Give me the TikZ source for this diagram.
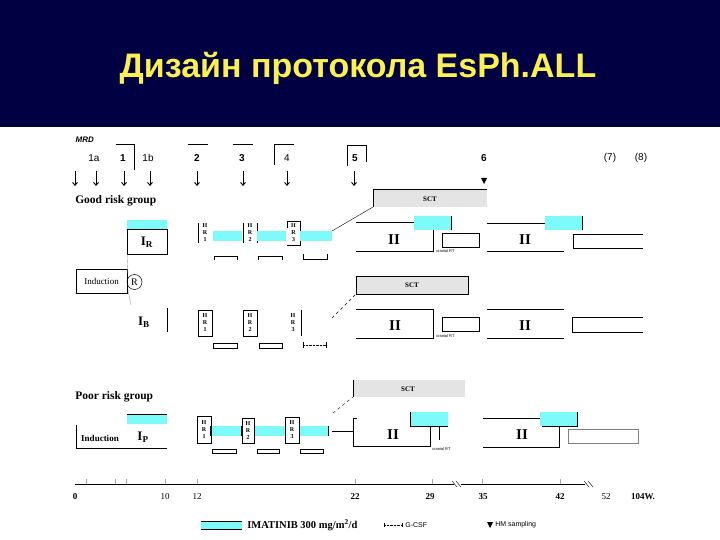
\documentclass[tikz,border=0pt]{standalone}
\usepackage{fontspec}
\setmainfont{Liberation Serif}
\setsansfont{Liberation Sans}
\usepackage{xcolor}
\usetikzlibrary{arrows.meta, positioning, calc}
\definecolor{esnavy}{RGB}{0,0,66}
\definecolor{esyellow}{RGB}{250,240,80}
\definecolor{escyan}{RGB}{125,250,250}
\definecolor{essct}{RGB}{228,228,228}
\definecolor{esfaint}{RGB}{165,165,165}

\begin{document}
\begin{tikzpicture}[x=1pt, y=-1pt, line width=0.6pt,
  serb/.style={font=\fontsize{#1}{#1}\selectfont\bfseries, inner sep=0pt},
  sans/.style={font=\sffamily\fontsize{#1}{#1}\selectfont, inner sep=0pt},
  hrl/.style={font=\fontsize{6}{7}\selectfont\bfseries, align=center, inner sep=0pt}]
\useasboundingbox (0,0) rectangle (720,540);
\fill[white] (0,0) rectangle (720,540);

% title band
\fill[esnavy] (0,0) rectangle (720,127);
\node[esyellow, font=\sffamily\bfseries\fontsize{34}{34}\selectfont] (title) at (358,68)
  {Дизайн протокола EsPh.ALL};

% MRD time points
\node[font=\sffamily\bfseries\itshape\fontsize{8}{8}\selectfont, anchor=west] (mrd) at (72,140) {MRD};
\foreach \x/\t [count=\i] in {94/1a, 123/\textbf{1}, 148/1b, 197/\textbf{2}, 242/\textbf{3},
                              287/4, 355/\textbf{5}, 484/\textbf{6}, 610/{(7)}, 641/{(8)}}{
  \node[sans=10] (tp\i) at (\x,158) {\t};
}
\draw[line width=0.4pt] (116,144) -- (134,144) -- (134,170);
\draw[line width=0.4pt] (188,144) -- (208,144);
\draw[line width=0.4pt] (233,144) -- (253,144);
\draw[line width=0.4pt] (274,165) -- (274,144) -- (294,144);
\draw[line width=0.4pt] (347,166) -- (347,145) -- (366,145) -- (366,162);
\foreach \x in {75,96,124,150,197,243,287,354}{
  \draw[-{Straight Barb[length=3pt,width=5pt]}, line width=0.9pt] (\x,171) -- (\x,186);
}
\fill (481,178) -- (487,178) -- (484,184) -- cycle;

% ---- good risk group ----
\node[serb=11.5, anchor=west] (good) at (75,201) {Good risk group};
\fill[escyan] (127,220) rectangle (167,229);
\draw (127,229) rectangle (167,254);
\node[serb=13] (ir) at (147,242) {I\textsubscript{R}};
% HR blocks
\draw[line width=0.8pt] (198,223) -- (198,243);
\node[hrl] (hrg1) at (205,233) {H\\R\\1};
\fill[escyan] (213,231) rectangle (242,241);
\draw[line width=0.8pt] (243,223) -- (243,243);
\draw (257,223) -- (257,243);
\node[hrl] (hrg2) at (250,233) {H\\R\\2};
\fill[escyan] (257,231) rectangle (286,241);
\draw (287,228) -- (287,221) -- (300,221) -- (300,245) -- (287,245);
\node[hrl] (hrg3) at (293.5,233) {H\\R\\3};
\fill[escyan] (300,231) rectangle (332,241);
\draw[line width=0.4pt] (214,260) -- (214,256) -- (237,256) -- (237,260);
\draw[line width=0.4pt] (258,260) -- (258,256) -- (282,256) -- (282,260);
\draw[line width=0.4pt] (303,254) -- (303,259) -- (327,259) -- (327,254);
\coordinate (gend) at (332,231);
\coordinate (gsct) at (373,207);
\draw[line width=0.4pt] (gend) -- (gsct);
% SCT
\fill[essct] (373,189) rectangle (487,207);
\draw (373,207) -- (373,189) -- (487,189);
\node[serb=7] (sctg) at (430,199) {SCT};
% maintenance
\draw (356,222) -- (414,222);
\fill[escyan] (414,216) rectangle (451,230);
\draw (451,216) -- (451,230);
\draw (433,230) -- (433,251) -- (356,251);
\node[serb=15] (iig1) at (394,240) {II};
\draw (442,233) rectangle (479,247);
\node[sans=4, anchor=north west] (crg) at (436,249) {cranial RT};
\draw (487,223) -- (545,223);
\fill[escyan] (545,216) rectangle (582,230);
\draw (582,216) -- (582,230);
\draw (487,251) -- (564,251);
\node[serb=15] (iig2) at (525,240) {II};
\draw (643,234) -- (573,234) -- (573,248) -- (643,248);

% ---- induction / randomisation ----
\draw (76,269) rectangle (127,293);
\node[font=\fontsize{9}{9}\selectfont, inner sep=0pt] (ind) at (101.5,281) {Induction};
\draw[line width=0.5pt] (134.5,282) circle (7.5);
\node[font=\fontsize{10}{10}\selectfont, inner sep=0pt] (rnd) at (134.5,282) {R};
\draw[esfaint, line width=0.4pt] (127,254) -- (128,274);
\draw[esfaint, line width=0.4pt] (128,290) -- (131,305);

% ---- middle arm ----
\node[serb=13] (ib) at (144,322) {I\textsubscript{B}};
\draw (167,308) -- (167,332);
\draw (198,310) rectangle (212,336);
\node[hrl] (hrb1) at (205,323) {H\\R\\1};
\draw (243,310) rectangle (257,336);
\node[hrl] (hrb2) at (250,323) {H\\R\\2};
\draw (301,310) -- (301,336);
\node[hrl] (hrb3) at (293,323) {H\\R\\3};
\draw[line width=0.4pt] (213,343) rectangle (237,348);
\draw[line width=0.4pt] (259,343) rectangle (282,348);
\draw[line width=0.4pt] (303,342) -- (303,348) (326,342) -- (326,348);
\draw[line width=0.4pt, densely dotted] (303,345) -- (326,345);
\coordinate (bend) at (332,318);
\coordinate (bsct) at (356,294);
\draw[line width=0.4pt, dashed] (bend) -- (bsct);
\fill[essct] (356,276) rectangle (468,294);
\draw (356,276) rectangle (468,294);
\node[serb=7] (sctb) at (412,285) {SCT};
\draw (356,309) -- (433,309) -- (433,338) -- (356,338);
\node[serb=15] (iib1) at (395,326) {II};
\draw (442,317) rectangle (479,331);
\node[sans=4, anchor=north west] (crb) at (436,334) {cranial RT};
\draw (487,309) -- (564,309);
\draw (487,338) -- (564,338);
\node[serb=15] (iib2) at (525,326) {II};
\draw (643,317) -- (572,317) -- (572,332) -- (643,332);

% ---- poor risk group ----
\node[serb=11.5, anchor=west] (poor) at (75,397) {Poor risk group};
\fill[escyan] (127,414) rectangle (167,424);
\draw (127,414) -- (167,414);
\draw (76,425) -- (76,448) -- (167,448);
\node[font=\fontsize{9}{9}\selectfont\bfseries, inner sep=0pt] (indp) at (100,438) {Induction};
\node[serb=13] (ip) at (143,437) {I\textsubscript{P}};
\fill[escyan] (211,426) rectangle (242,436);
\fill[escyan] (254,426) rectangle (285,436);
\fill[escyan] (299,426) rectangle (328,436);
\draw (197,416) rectangle (211,443);
\draw[line width=1.2pt] (211,426) -- (211,436);
\node[hrl] (hrp1) at (204,430) {H\\R\\1};
\draw (242,418) rectangle (254,443);
\draw[line width=1.2pt] (242,426) -- (242,436);
\node[hrl] (hrp2) at (248,430.5) {H\\R\\2};
\draw (285,417) rectangle (299,443);
\node[hrl] (hrp3) at (292,430) {H\\R\\3};
\draw (328,426) -- (328,436);
\draw (332,431) -- (353,431);
\draw[line width=0.4pt] (212,449) rectangle (236,453);
\draw[line width=0.4pt] (257,449) rectangle (279,453);
\draw[line width=0.4pt] (300,449) rectangle (323,453);
\coordinate (pend) at (333,413);
\coordinate (psct) at (353,397);
\draw[line width=0.4pt, dashed] (pend) -- (psct);
\fill[essct] (353,380) rectangle (465,397);
\draw (353,380) -- (353,397);
\node[serb=7] (sctp) at (408,389) {SCT};
\draw (357,418) -- (353,418) -- (353,446) -- (430,446) -- (430,426);
\fill[escyan] (410,412) rectangle (448,426);
\draw (410,412) -- (410,426) -- (448,426);
\draw (439,427) -- (439,440);
\node[serb=15] (iip1) at (393,435) {II};
\node[sans=4, anchor=north west] (crp) at (432,447) {cranial RT};
\draw (483,418) -- (540,418);
\fill[escyan] (540,412) rectangle (577,426);
\draw (577,412) -- (577,426) -- (542,426);
\draw (559,426) -- (559,447) -- (483,447);
\node[serb=15] (iip2) at (522,435) {II};
\draw[gray] (568,429) rectangle (638,443);

% ---- time axis ----
\foreach \x in {86,115,126,165,197,355,432,482,560}{
  \draw[esfaint, line width=0.4pt] (\x,479) -- (\x,484);
}
\draw (75,484) -- (454,484);
\draw[line width=0.4pt] (452,481) -- (457,487) (456,481) -- (461,487);
\draw (461,484) -- (585,484);
\draw[line width=0.4pt] (584,481) -- (589,487) (588,481) -- (593,487);
\foreach \x/\t [count=\i] in {75/\textbf{0}, 165/10, 197/12, 355/\textbf{22}, 430/\textbf{29},
                              483/\textbf{35}, 560/\textbf{42}, 606/52, 643/\textbf{104W.}}{
  \node[font=\fontsize{9}{9}\selectfont, inner sep=0pt] (wk\i) at (\x,497) {\t};
}

% ---- legend ----
\fill[escyan] (201,521) rectangle (242,529);
\draw (201,521) -- (242,521) (201,529) -- (242,529);
\node[serb=10.5, anchor=west] (legima) at (247,525) {IMATINIB 300 mg/m\textsuperscript{2}/d};
\draw[line width=0.4pt] (384,523) -- (384,527) (402,523) -- (402,527);
\draw[line width=0.4pt, densely dotted] (384,525) -- (402,525);
\node[sans=7, anchor=west] (leggcsf) at (405,525) {G-CSF};
\fill (487,522) -- (493,522) -- (490,528) -- cycle;
\node[sans=7, anchor=west] (leghm) at (495,525) {HM sampling};
\end{tikzpicture}
\end{document}
